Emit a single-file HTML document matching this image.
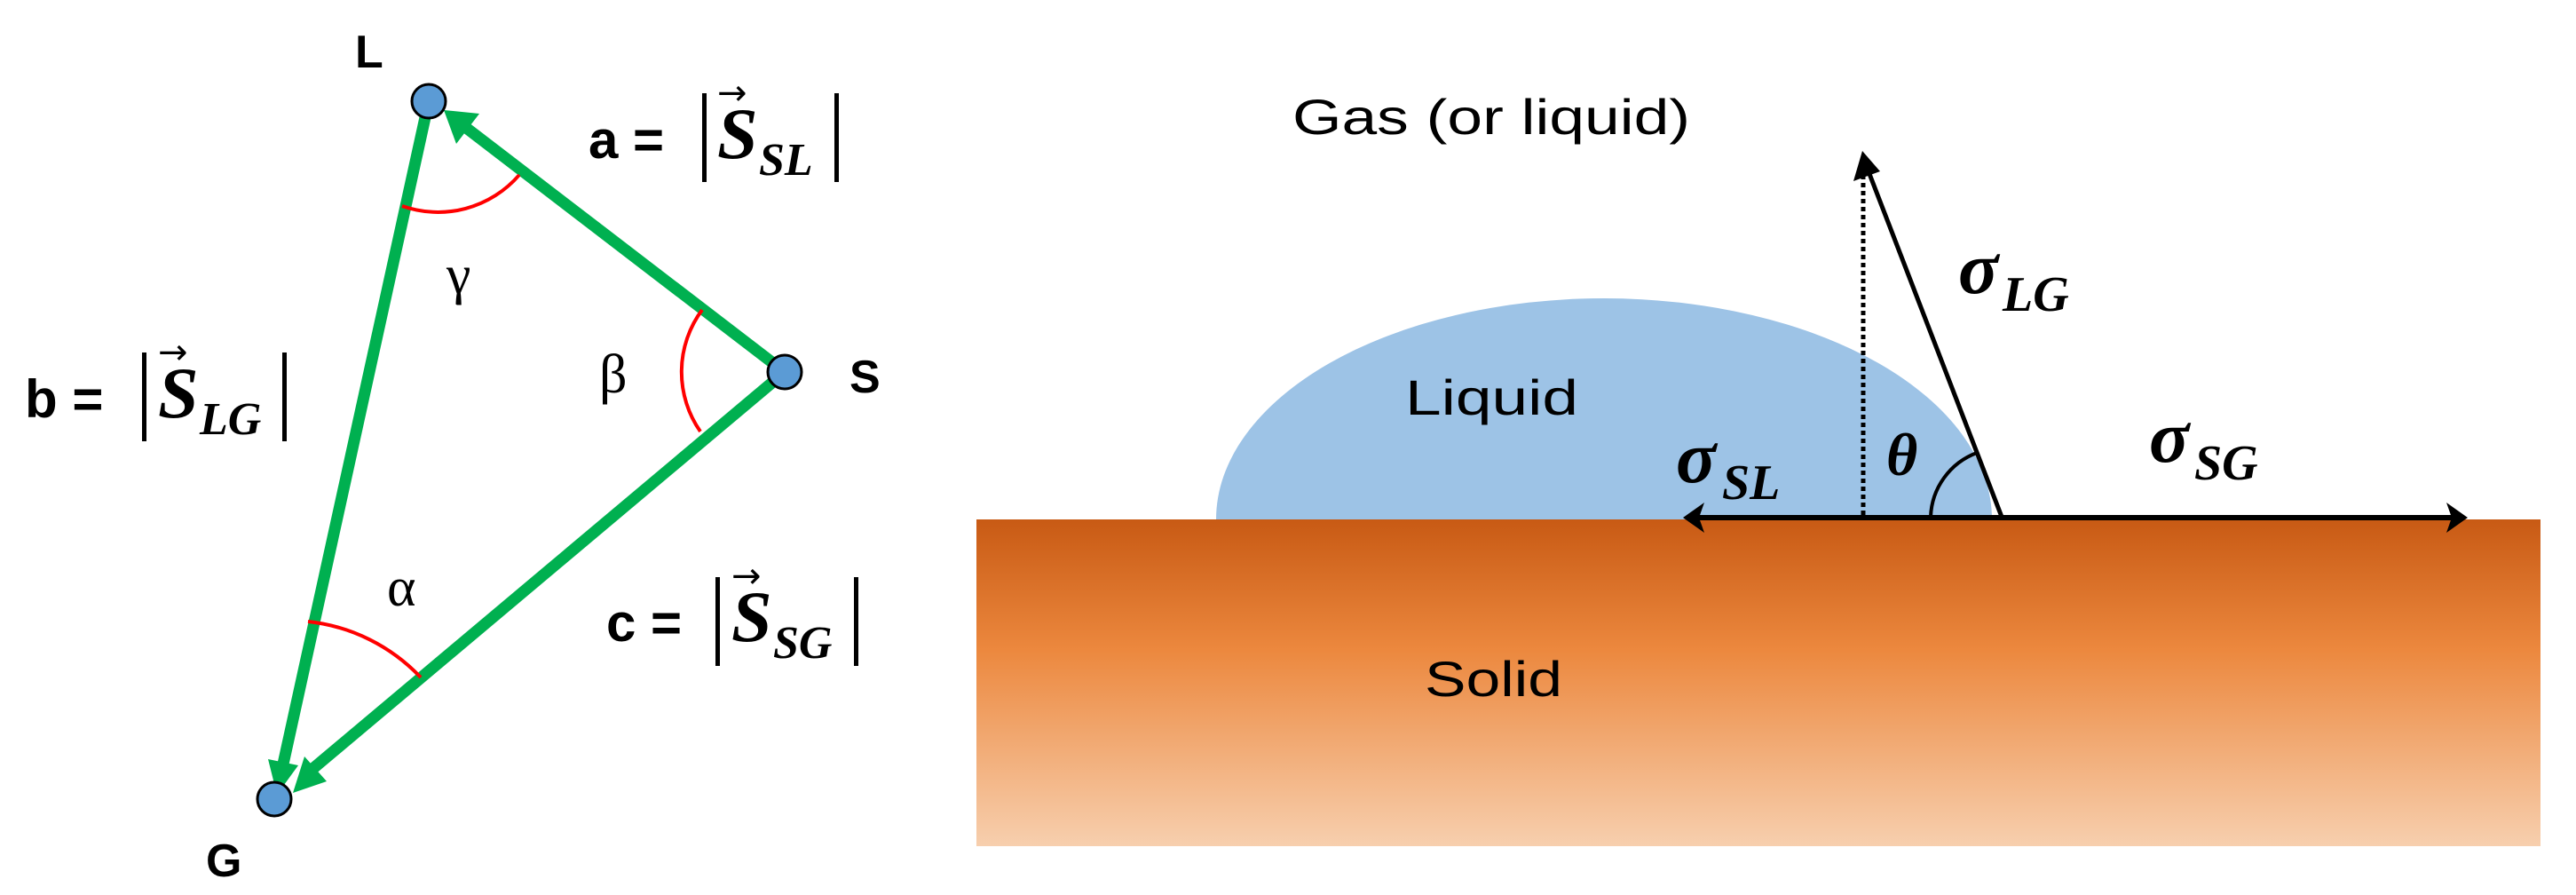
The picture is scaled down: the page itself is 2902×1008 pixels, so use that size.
<!DOCTYPE html>
<html><head><meta charset="utf-8"><style>html,body{margin:0;padding:0;background:#fff}svg{display:block}</style></head>
<body>
<svg width="2902" height="1008" viewBox="0 0 2902 1008" xmlns="http://www.w3.org/2000/svg">
<defs>
<linearGradient id="sol" x1="0" y1="0" x2="0" y2="1">
<stop offset="0" stop-color="#c85a14"/>
<stop offset="0.4" stop-color="#ec883e"/>
<stop offset="1" stop-color="#f7cfae"/>
</linearGradient>
</defs>
<g stroke="#00b050" stroke-width="13" fill="none" stroke-linecap="butt">
<line x1="884" y1="419" x2="520" y2="140"/>
<line x1="483" y1="114" x2="318" y2="865"/>
<line x1="884" y1="419" x2="345" y2="872"/>
</g>
<g fill="#00b050">
<polygon points="500,124 540,128 514,162"/>
<polygon points="312,895 302,855 336,862"/>
<polygon points="330,893 343,852 368,880"/>
</g>
<g stroke="#ff0000" stroke-width="4" fill="none">
<path d="M453,232 A121,121 0 0 0 585,197"/>
<path d="M791,349 A117,117 0 0 0 789,486"/>
<path d="M347,700 A205,205 0 0 1 474,763"/>
</g>
<g fill="#5b9bd5" stroke="#000" stroke-width="3">
<circle cx="483" cy="114" r="19"/>
<circle cx="884" cy="419" r="19"/>
<circle cx="309" cy="900" r="19"/>
</g>
<g font-family="Liberation Sans, sans-serif" font-weight="bold" font-size="52" fill="#000">
<text x="400" y="76">L</text>
<text x="957" y="442">S</text>
<text x="232" y="987">G</text>
</g>
<g font-family="Liberation Serif, serif" font-size="62" fill="#000">
<text x="503" y="330">γ</text>
<text x="675" y="442">β</text>
<text x="436" y="682">α</text>
</g>
<g fill="#000">
<text x="663" y="178" font-family="Liberation Sans, sans-serif" font-weight="bold" font-size="60">a =</text>
<rect x="791" y="105" width="5" height="100"/>
<rect x="940" y="105" width="5" height="100"/>
<text x="808" y="178" font-family="Liberation Serif, serif" font-weight="bold" font-style="italic" font-size="82">S</text>
<text x="855" y="197" font-family="Liberation Serif, serif" font-weight="bold" font-style="italic" font-size="52">SL</text>
<text x="808" y="118" font-family="DejaVu Sans, sans-serif" font-size="40">→</text>
</g>
<g fill="#000">
<text x="28" y="470" font-family="Liberation Sans, sans-serif" font-weight="bold" font-size="60">b =</text>
<rect x="160" y="397" width="5" height="100"/>
<rect x="318" y="397" width="5" height="100"/>
<text x="178" y="470" font-family="Liberation Serif, serif" font-weight="bold" font-style="italic" font-size="82">S</text>
<text x="225" y="489" font-family="Liberation Serif, serif" font-weight="bold" font-style="italic" font-size="52">LG</text>
<text x="178" y="410" font-family="DejaVu Sans, sans-serif" font-size="40">→</text>
</g>
<g fill="#000">
<text x="683" y="722" font-family="Liberation Sans, sans-serif" font-weight="bold" font-size="60">c =</text>
<rect x="806" y="650" width="5" height="100"/>
<rect x="962" y="650" width="5" height="100"/>
<text x="824" y="722" font-family="Liberation Serif, serif" font-weight="bold" font-style="italic" font-size="82">S</text>
<text x="871" y="741" font-family="Liberation Serif, serif" font-weight="bold" font-style="italic" font-size="52">SG</text>
<text x="824" y="662" font-family="DejaVu Sans, sans-serif" font-size="40">→</text>
</g>
<rect x="1100" y="585" width="1762" height="368" fill="url(#sol)"/>
<path d="M1370,585 A437,249 0 0 1 2244,585 Z" fill="#9dc3e6"/>
<line x1="1910" y1="583" x2="2766" y2="583" stroke="#000" stroke-width="6"/>
<polygon points="1896,583 1920,566 1914,583 1920,600" fill="#000"/>
<polygon points="2780,583 2756,566 2762,583 2756,600" fill="#000"/>
<line x1="2099" y1="580" x2="2099" y2="182" stroke="#000" stroke-width="5" stroke-dasharray="5,4"/>
<line x1="2255" y1="582" x2="2103" y2="188" stroke="#000" stroke-width="5"/>
<polygon points="2098,170 2088,204 2118,193" fill="#000"/>
<path d="M2175,582 A80,80 0 0 1 2227,510" stroke="#000" stroke-width="4" fill="none"/>
<g font-family="Liberation Sans, sans-serif" font-size="56" fill="#000">
<text x="1456" y="151" textLength="448" lengthAdjust="spacingAndGlyphs">Gas (or liquid)</text>
<text x="1583" y="467" textLength="195" lengthAdjust="spacingAndGlyphs">Liquid</text>
<text x="1605" y="784" textLength="155" lengthAdjust="spacingAndGlyphs">Solid</text>
</g>
<g font-family="Liberation Serif, serif" font-weight="bold" font-style="italic" fill="#000">
<text x="2206" y="330" font-size="84">σ</text>
<text x="2256" y="350" font-size="56">LG</text>
<text x="2125" y="535" font-size="68">θ</text>
<text x="1888" y="543" font-size="84">σ</text>
<text x="1940" y="562" font-size="56">SL</text>
<text x="2421" y="520" font-size="84">σ</text>
<text x="2472" y="540" font-size="56">SG</text>
</g>
</svg>
</body></html>
